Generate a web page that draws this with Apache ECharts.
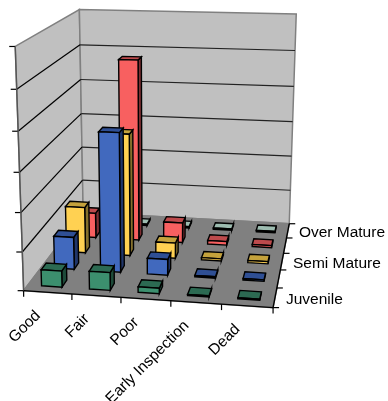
<!DOCTYPE html>
<html>
<head>
<meta charset="utf-8">
<style>html,body{margin:0;padding:0;background:#fff}#chart{width:388px;height:401px}</style>
<script src="https://cdn.jsdelivr.net/npm/echarts@6/dist/echarts.min.js"></script>
</head>
<body>
<div id="chart"></div>
<script>
// Condition categories along the front edge of the floor
const categories = ['Good', 'Fair', 'Poor', 'Early Inspection', 'Dead'];
// Age classes, front row to back row
const juvenile   = [4.2, 4.6, 1.4, 0.3, 0.3];
const young      = [8.6, 36.5, 4.2, 0.4, 0.4];
const semiMature = [12.6, 33, 4.2, 0.6, 0.6];
const mature     = [7, 50, 5.6, 1, 0.6];
const overMature = [0.3, 0.4, 0.4, 0.4, 0.4];
const rowNames = ['Juvenile', 'Young', 'Semi Mature', 'Mature', 'Over Mature'];
const rowLabels = { 0: 'Juvenile', 2: 'Semi Mature', 4: 'Over Mature' };
const valueTicks = [0, 10, 20, 30, 40, 50, 60];
const rowCount = 5;

// front, top and side shades per row
const rowColors = [
  ['#3c8f6e', '#2c6a52', '#1d4a39'],
  ['#4169be', '#2f4f94', '#20366a'],
  ['#ffd152', '#c4a23c', '#85702c'],
  ['#f86060', '#bd4a4c', '#7c2f32'],
  ['#cfeee2', '#9dbcb0', '#6d8a80']
];

// Camera calibration: unit-cube frame corners [x, y, depth] to page pixels
const calibration = [
  [0, 0, 0, 24, 291], [0, 1, 0, 16, 45], [0, .5, 0, 19.5, 173],
  [0, 0, 1, 83, 212], [0, 1, 1, 79, 10], [0, .5, 1, 81, 114],
  [1, 0, 1, 290, 223], [1, 1, 1, 296, 14], [1, .5, 1, 293, 122],
  [1, 0, 0, 272, 308]
];

// Least-squares 3x4 projection with the last element fixed at 1
function solveCamera(points) {
  const n = 11, A = [], b = [];
  for (let i = 0; i < n; i++) { A.push(new Array(n).fill(0)); b.push(0); }
  const add = (row, rhs) => {
    for (let i = 0; i < n; i++) {
      for (let j = 0; j < n; j++) A[i][j] += row[i] * row[j];
      b[i] += row[i] * rhs;
    }
  };
  points.forEach(([X, Y, Z, px, py]) => {
    const u = px / 400, v = py / 400;
    add([X, Y, Z, 1, 0, 0, 0, 0, -u * X, -u * Y, -u * Z], u);
    add([0, 0, 0, 0, X, Y, Z, 1, -v * X, -v * Y, -v * Z], v);
  });
  for (let c = 0; c < n; c++) {
    let p = c;
    for (let r = c + 1; r < n; r++) if (Math.abs(A[r][c]) > Math.abs(A[p][c])) p = r;
    [A[c], A[p]] = [A[p], A[c]];
    [b[c], b[p]] = [b[p], b[c]];
    for (let r = 0; r < n; r++) {
      if (r === c) continue;
      const f = A[r][c] / A[c][c];
      for (let k = c; k < n; k++) A[r][k] -= f * A[c][k];
      b[r] -= f * b[c];
    }
  }
  return b.map((val, i) => val / A[i][i]);
}
const cam = solveCamera(calibration);
function project(x, y, z) {
  const w = cam[8] * x + cam[9] * y + cam[10] * z + 1;
  return [
    400 * (cam[0] * x + cam[1] * y + cam[2] * z + cam[3]) / w,
    400 * (cam[4] * x + cam[5] * y + cam[6] * z + cam[7]) / w
  ];
}
function area(pts) {
  let s = 0;
  pts.forEach((p, i) => {
    const q = pts[(i + 1) % pts.length];
    s += p[0] * q[1] - q[0] * p[1];
  });
  return s / 2;
}

const BAR_W = 0.43, BAR_D = 0.38;

// One 3D column: the grid axes give its normalised x and height, the row gives depth
function renderColumn(params, api) {
  const g = params.coordSys;
  const row = rowCount - params.seriesIndex;
  const base = api.coord([api.value(0), 0]);
  const top = api.coord([api.value(0), api.value(1)]);
  const band = api.size([1, 0])[0] / g.width;
  const cx = (base[0] - g.x) / g.width;
  const y1 = (base[1] - top[1]) / g.height;
  const x0 = cx - band * BAR_W / 2, x1 = cx + band * BAR_W / 2;
  const z0 = (row + 0.5 - BAR_D / 2) / rowCount, z1 = (row + 0.5 + BAR_D / 2) / rowCount;
  const colors = rowColors[row];
  const faces = [
    [[x0, 0, z1], [x0, 0, z0], [x0, y1, z0], [x0, y1, z1], colors[2]],
    [[x1, 0, z0], [x1, 0, z1], [x1, y1, z1], [x1, y1, z0], colors[2]],
    [[x0, y1, z0], [x1, y1, z0], [x1, y1, z1], [x0, y1, z1], colors[1]],
    [[x0, 0, z0], [x1, 0, z0], [x1, y1, z0], [x0, y1, z0], colors[0]]
  ];
  const children = [];
  faces.forEach(f => {
    const pts = f.slice(0, 4).map(p => project(p[0], p[1], p[2]));
    if (area(pts) < 0) {
      children.push({
        type: 'polygon',
        shape: { points: pts },
        style: { fill: f[4], stroke: '#000', lineWidth: 1.4, lineJoin: 'miter' }
      });
    }
  });
  return { type: 'group', children };
}

function line(a, b, stroke, lineWidth) {
  return {
    type: 'line',
    shape: { x1: a[0], y1: a[1], x2: b[0], y2: b[1] },
    style: { stroke, lineWidth }
  };
}
function label(text, x, y, align, rotation) {
  return {
    type: 'text', x, y, rotation,
    style: { text, fill: '#000', font: '15.5px "Liberation Sans", Arial, sans-serif', align, verticalAlign: 'middle' }
  };
}

// Walls, floor, gridlines, ticks and axis labels
function renderFrame(params, api) {
  const g = params.coordSys;
  const wall = '#c0c0c0', edge = '#808080';
  const c = [];
  const poly = (pts, fill) => c.push({
    type: 'polygon',
    shape: { points: pts.map(p => project(p[0], p[1], p[2])) },
    style: { fill, stroke: edge, lineWidth: 1.5 }
  });
  poly([[0, 0, 0], [0, 0, 1], [0, 1, 1], [0, 1, 0]], wall);
  poly([[0, 0, 1], [1, 0, 1], [1, 1, 1], [0, 1, 1]], wall);
  poly([[0, 0, 0], [1, 0, 0], [1, 0, 1], [0, 0, 1]], '#808080');

  valueTicks.forEach(tick => {
    const y = (g.y + g.height - api.coord([0, tick])[1]) / g.height;
    const a = project(0, y, 0), b = project(0, y, 1), d = project(1, y, 1);
    c.push(line([a[0] - 6, a[1]], a, '#000', 1.2));
    if (tick > 0 && tick < 60) {
      c.push(line(a, b, '#000', 1.2));
      c.push(line(b, d, '#222', 1.2));
    }
  });
  c.push(line(project(0, 0, 0), project(0, 1, 0), '#555', 1.4));
  c.push(line(project(0, 0, 0), project(1, 0, 0), '#000', 1.4));
  c.push(line(project(1, 0, 0), project(1, 0, 1), '#000', 1.4));

  for (let i = 0; i <= categories.length; i++) {
    const p = project(i / categories.length, 0, 0);
    c.push(line(p, [p[0], p[1] + 6], '#000', 1.2));
  }
  for (let r = 0; r <= rowCount; r++) {
    const p = project(1, 0, r / rowCount);
    c.push(line(p, [p[0] + 6, p[1]], '#000', 1.2));
  }
  categories.forEach((name, i) => {
    const p = project((i + 0.5) / categories.length, 0, 0);
    c.push(label(name, p[0] - 9.5, p[1] + 21, 'right', Math.PI / 4));
  });
  Object.keys(rowLabels).forEach(r => {
    const p = project(1, 0, (+r + 0.5) / rowCount);
    c.push(label(rowLabels[r], p[0] + 11, p[1] + 2, 'left', 0));
  });
  return { type: 'group', children: c };
}

const rowValues = [juvenile, young, semiMature, mature, overMature];
const columns = [];
for (let r = rowCount - 1; r >= 0; r--) {
  columns.push({
    type: 'custom',
    name: rowNames[r],
    coordinateSystem: 'cartesian2d',
    clip: false,
    silent: true,
    renderItem: renderColumn,
    encode: { x: 0, y: 1 },
    data: rowValues[r].map((v, i) => [i, v])
  });
}

const chart = echarts.init(document.getElementById('chart'), null, { renderer: 'canvas' });
chart.setOption({
  animation: false,
  backgroundColor: '#fff',
  grid: { left: 0, right: 0, top: 0, bottom: 0 },
  xAxis: { type: 'category', data: categories.map((_, i) => i), show: false },
  yAxis: { type: 'value', min: 0, max: 60, interval: 10, show: false },
  series: [{
    type: 'custom',
    name: 'frame',
    coordinateSystem: 'cartesian2d',
    clip: false,
    silent: true,
    renderItem: renderFrame,
    encode: { x: 0, y: 1 },
    data: [[0, 0]]
  }].concat(columns)
});
</script>
</body>
</html>
